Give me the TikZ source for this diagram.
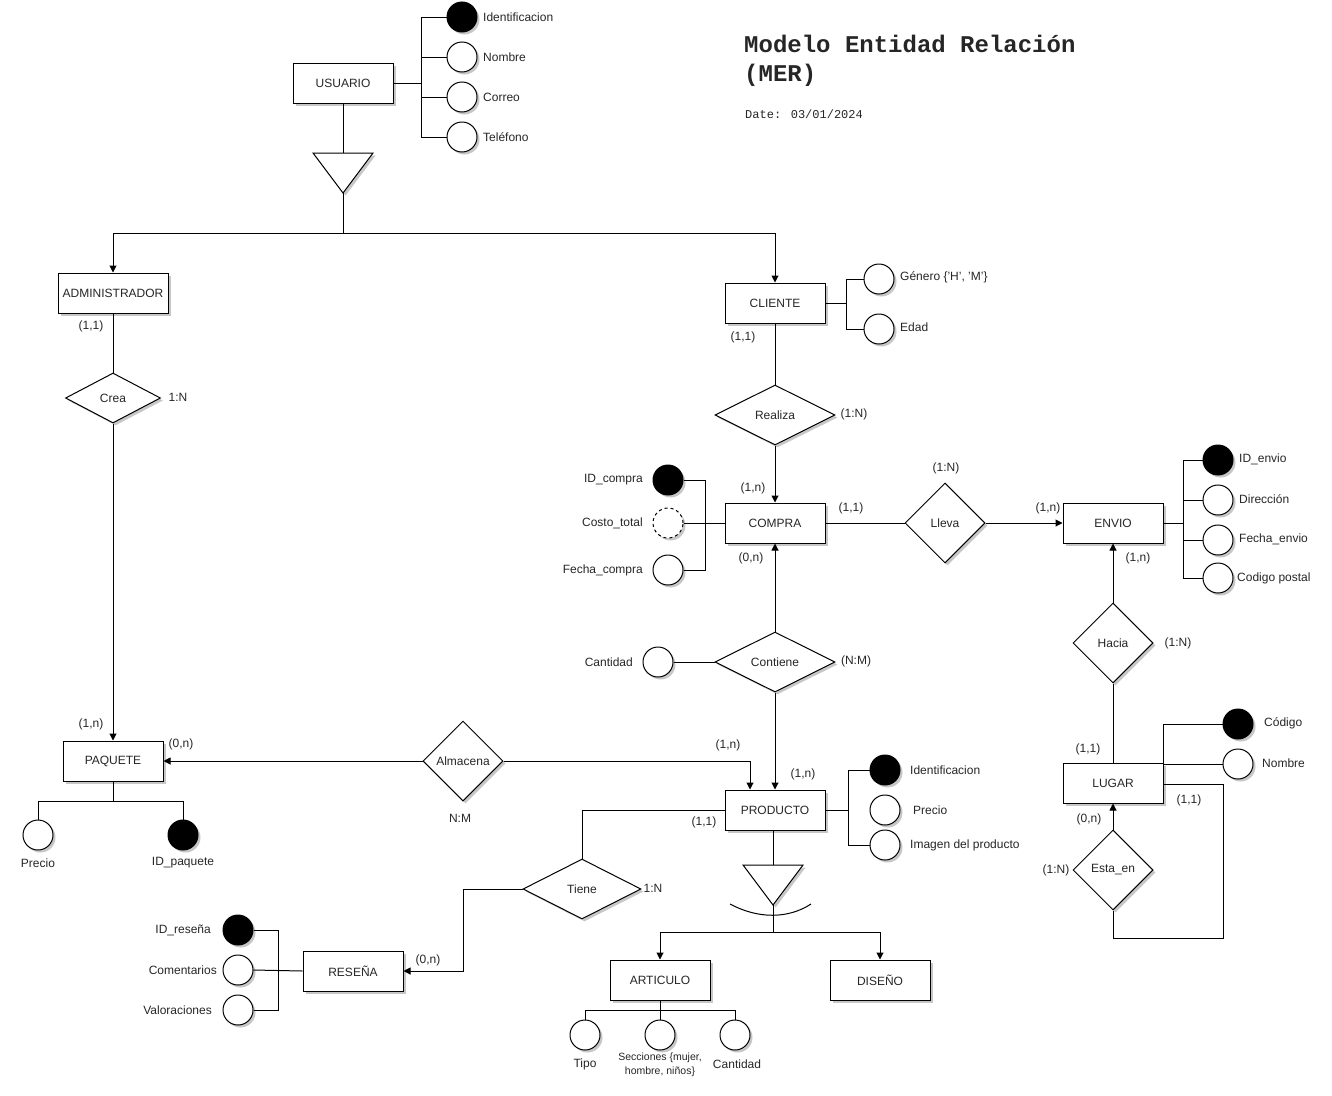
\documentclass[tikz,border=0pt]{standalone}
\usepackage{fontspec}
\setmainfont{Liberation Sans}
\newfontfamily\titlemono{Liberation Mono}
\usetikzlibrary{arrows.meta,shapes.geometric,shadows}

\begin{document}
\begin{tikzpicture}[x=1pt,y=-1pt,
  txt/.style={text=black!85, font=\fontsize{12}{14}\selectfont},
  shade/.style={drop shadow={shadow xshift=2.5pt, shadow yshift=-2.5pt, opacity=0.22, fill=black}},
  entity/.style={draw, line width=1pt, fill=white, shade, minimum width=100pt, minimum height=40pt,
    inner sep=0pt, txt},
  rel/.style={draw, diamond, line width=1pt, fill=white, shade, inner sep=0pt, txt},
  attr/.style={draw, circle, line width=1pt, fill=white, shade, minimum size=30pt, inner sep=0pt},
  keyattr/.style={attr, fill=black},
  derived/.style={attr, dashed},
  lbl/.style={txt, inner sep=0pt},
  card/.style={txt, inner sep=0pt},
  conn/.style={line width=1pt},
  arr/.style={line width=1pt, -{Triangle[length=7pt,width=7pt]}},
]
\useasboundingbox (0,0) rectangle (1332,1095);

% ---------- title ----------
\node[anchor=west, inner sep=0pt, text=black!85, font=\titlemono\bfseries\fontsize{24}{28}\selectfont] (title1) at (744,44) {Modelo Entidad Relación};
\node[anchor=west, inner sep=0pt, text=black!85, font=\titlemono\bfseries\fontsize{24}{28}\selectfont] (title2) at (744,75) {(MER)};
\node[anchor=west, inner sep=0pt, text=black!85, font=\titlemono\fontsize{12}{14}\selectfont] (date) at (745,114) {Date: 03/01/2024};

% ---------- USUARIO ----------
\node[entity] (usuario) at (343,83) {USUARIO};
\node[keyattr] (uid) at (462,17) {};
\node[attr] (unom) at (462,57) {};
\node[attr] (ucor) at (462,97) {};
\node[attr] (utel) at (462,137) {};
\node[lbl, anchor=west] at (483,17) {Identificacion};
\node[lbl, anchor=west] at (483,57) {Nombre};
\node[lbl, anchor=west] at (483,97) {Correo};
\node[lbl, anchor=west] at (483,137) {Teléfono};
\coordinate (ubar) at (421,83);
\draw[conn] (usuario.east) -- (ubar);
\draw[conn] (uid.west) -| (ubar);
\draw[conn] (utel.west) -| (ubar);
\draw[conn] (unom.west) -- (unom.west -| ubar);
\draw[conn] (ucor.west) -- (ucor.west -| ubar);

% generalisation of USUARIO
\coordinate (isa1top) at (343,153);
\coordinate (isa1tip) at (343,193);
\coordinate (isa1split) at (343,233);
\draw[conn, fill=white, shade] (313,153) -- (373,153) -- (isa1tip) -- cycle;
\draw[conn] (usuario.south) -- (isa1top);

% ---------- ADMINISTRADOR / PAQUETE ----------
\node[entity, minimum width=110pt] (admin) at (113,293) {ADMINISTRADOR};
\node[entity] (cliente) at (775,303) {CLIENTE};
\draw[arr] (isa1tip) -- (isa1split) -| (admin.north);
\draw[arr] (isa1split) -| (cliente.north);

\node[rel, minimum width=95pt, minimum height=50pt] (crea) at (113,398) {Crea};
\node[entity] (paquete) at (113,761) {PAQUETE};
\draw[conn] (admin.south) -- (crea.north);
\draw[arr] (crea.south) -- (paquete.north);
\node[card] at (91,326) {(1,1)};
\node[card] at (178,397) {1:N};
\node[card] at (91,724) {(1,n)};
\node[card] at (181,744) {(0,n)};

\node[attr] (pprecio) at (38,835) {};
\node[keyattr] (pid) at (183,835) {};
\node[lbl] at (38,863) {Precio};
\node[lbl] at (183,863) {ID\_paquete};
\coordinate (pbar) at (113,801);
\draw[conn] (paquete.south) -- (pbar);
\draw[conn] (pprecio.north) |- (pbar);
\draw[conn] (pid.north) |- (pbar);

% ---------- CLIENTE ----------
\node[attr] (cgen) at (879,279) {};
\node[attr] (cedad) at (879,329) {};
\node[lbl, anchor=west] at (900,277) {Género \{'H', 'M'\}};
\node[lbl, anchor=west] at (900,327) {Edad};
\coordinate (cbar) at (846,303);
\draw[conn] (cliente.east) -- (cbar);
\draw[conn] (cgen.west) -| (cbar);
\draw[conn] (cedad.west) -| (cbar);
\node[card] at (743,337) {(1,1)};

\node[rel, minimum width=120pt, minimum height=60pt] (realiza) at (775,415) {Realiza};
\node[card] at (854,414) {(1:N)};
\node[entity] (compra) at (775,523) {COMPRA};
\draw[conn] (cliente.south) -- (realiza.north);
\draw[arr] (realiza.south) -- (compra.north);
\node[card] at (753,488) {(1,n)};

% ---------- COMPRA ----------
\node[keyattr] (cid) at (668,480) {};
\node[derived] (ccosto) at (668,523) {};
\node[attr] (cfecha) at (668,570) {};
\node[lbl, anchor=east] at (643,480) {ID\_compra};
\node[lbl, anchor=east] at (643,523) {Costo\_total};
\node[lbl, anchor=east] at (643,570) {Fecha\_compra};
\coordinate (cpbar) at (705,523);
\draw[conn] (ccosto.east) -- (compra.west);
\draw[conn] (cid.east) -| (cpbar);
\draw[conn] (cfecha.east) -| (cpbar);
\node[card] at (751,558) {(0,n)};

% ---------- Lleva / ENVIO ----------
\node[rel, minimum width=80pt, minimum height=80pt] (lleva) at (945,523) {Lleva};
\node[entity] (envio) at (1113,523) {ENVIO};
\draw[conn] (compra.east) -- (lleva.west);
\draw[arr] (lleva.east) -- (envio.west);
\node[card] at (851,508) {(1,1)};
\node[card] at (946,468) {(1:N)};
\node[card] at (1048,508) {(1,n)};

\node[keyattr] (eid) at (1218,460) {};
\node[attr] (edir) at (1218,500) {};
\node[attr] (efec) at (1218,540) {};
\node[attr] (ecod) at (1218,578) {};
\node[lbl, anchor=west] at (1239,459) {ID\_envio};
\node[lbl, anchor=west] at (1239,499) {Dirección};
\node[lbl, anchor=west] at (1239,539) {Fecha\_envio};
\node[lbl, anchor=west] at (1237,578) {Codigo postal};
\coordinate (ebar) at (1183,523);
\draw[conn] (envio.east) -- (ebar);
\draw[conn] (eid.west) -| (ebar);
\draw[conn] (ecod.west) -| (ebar);
\draw[conn] (edir.west) -- (edir.west -| ebar);
\draw[conn] (efec.west) -- (efec.west -| ebar);
\node[card] at (1138,558) {(1,n)};

% ---------- Hacia / LUGAR ----------
\node[rel, minimum width=80pt, minimum height=80pt] (hacia) at (1113,643) {Hacia};
\node[entity] (lugar) at (1113,783) {LUGAR};
\draw[arr] (hacia.north) -- (envio.south);
\draw[conn] (hacia.south) -- (lugar.north);
\node[card] at (1178,643) {(1:N)};
\node[card] at (1088,749) {(1,1)};

\node[keyattr] (lcod) at (1238,724) {};
\node[attr] (lnom) at (1238,764) {};
\node[lbl, anchor=west] at (1264,723) {Código};
\node[lbl, anchor=west] at (1262,763) {Nombre};
\draw[conn] (lcod.west) -| (lugar.north east);
\draw[conn] (lnom.west) -- (lugar.north east |- lnom.west);

\node[rel, minimum width=80pt, minimum height=80pt] (estaen) at (1113,870) {Esta\_en};
\draw[arr] (estaen.north) -- (lugar.south);
\coordinate (loopc) at (1223,938);
\draw[conn] (lugar.east |- 0,784) -| (loopc) -| (estaen.south);
\node[card] at (1089,819) {(0,n)};
\node[card] at (1056,870) {(1:N)};
\node[card] at (1189,800) {(1,1)};

% ---------- Contiene / PRODUCTO ----------
\node[rel, minimum width=120pt, minimum height=60pt] (contiene) at (775,662) {Contiene};
\node[attr] (cant) at (658,662) {};
\node[lbl, anchor=east] at (633,662) {Cantidad};
\draw[conn] (cant.east) -- (contiene.west);
\node[card] at (856,661) {(N:M)};
\node[entity] (producto) at (775,810) {PRODUCTO};
\draw[arr] (contiene.north) -- (compra.south);
\draw[arr] (contiene.south) -- (producto.north);
\node[card] at (803,774) {(1,n)};

% ---------- Almacena ----------
\node[rel, minimum width=80pt, minimum height=80pt] (almacena) at (463,761) {Almacena};
\draw[arr] (almacena.west) -- (paquete.east);
\draw[arr] (almacena.east) -- (750,761) -- (producto.north -| 750,0);
\node[card] at (728,745) {(1,n)};
\node[card] at (460,818) {N:M};

% ---------- PRODUCTO attributes ----------
\node[keyattr] (prid) at (885,770) {};
\node[attr] (prprecio) at (885,810) {};
\node[attr] (primg) at (885,845) {};
\node[lbl, anchor=west] at (910,770) {Identificacion};
\node[lbl, anchor=west] at (913,810) {Precio};
\node[lbl, anchor=west] at (910,845) {Imagen del producto};
\coordinate (prbar) at (848,810);
\draw[conn] (producto.east) -- (prbar);
\draw[conn] (prid.west) -| (prbar);
\draw[conn] (primg.west) -| (prbar);
\node[card] at (704,822) {(1,1)};

% ---------- Tiene / RESEÑA ----------
\node[rel, minimum width=118pt, minimum height=60pt] (tiene) at (582,889) {Tiene};
\draw[conn] (producto.west) -| (tiene.north);
\node[card] at (653,888) {1:N};
\node[entity] (resena) at (353,971) {RESEÑA};
\coordinate (tbend) at (463,889);
\draw[arr] (tiene.west) -- (tbend) |- (resena.east);
\node[card] at (428,960) {(0,n)};

\node[keyattr] (rid) at (238,930) {};
\node[attr] (rcom) at (238,970) {};
\node[attr] (rval) at (238,1010) {};
\node[lbl, anchor=east] at (211,930) {ID\_reseña};
\node[lbl, anchor=east] at (217,970) {Comentarios};
\node[lbl, anchor=east] at (212,1010) {Valoraciones};
\coordinate (rbar) at (278,970);
\draw[conn] (rcom.east) -- (resena.west);
\draw[conn] (rid.east) -| (rbar);
\draw[conn] (rval.east) -| (rbar);

% ---------- specialisation of PRODUCTO ----------
\coordinate (isa2top) at (773,865);
\coordinate (isa2tip) at (773,905);
\coordinate (isa2split) at (773,932);
\draw[conn] (producto.south -| isa2top) -- (isa2top);
\draw[conn, fill=white, shade] (743,865) -- (803,865) -- (isa2tip) -- cycle;
\draw[conn] (730,904) .. controls (758,919) and (788,919) .. (811,904);
\node[entity] (articulo) at (660,980) {ARTICULO};
\node[entity] (diseno) at (880,980) {DISEÑO};
\draw[arr] (isa2tip) -- (isa2split) -| (articulo.north);
\draw[arr] (isa2split) -| (diseno.north);

\node[attr] (atipo) at (585,1035) {};
\node[attr] (asec) at (660,1035) {};
\node[attr] (acant) at (735,1035) {};
\coordinate (abar) at (660,1010);
\draw[conn] (articulo.south) -- (abar);
\draw[conn] (atipo.north) |- (abar);
\draw[conn] (acant.north) |- (abar);
\draw[conn] (abar) -- (asec.north);
\node[lbl] at (585,1064) {Tipo};
\node[lbl, align=center, font=\fontsize{10.5}{14}\selectfont] at (660,1065) {Secciones \{mujer,\\hombre, niños\}};
\node[lbl] at (737,1064) {Cantidad};
\end{tikzpicture}
\end{document}
